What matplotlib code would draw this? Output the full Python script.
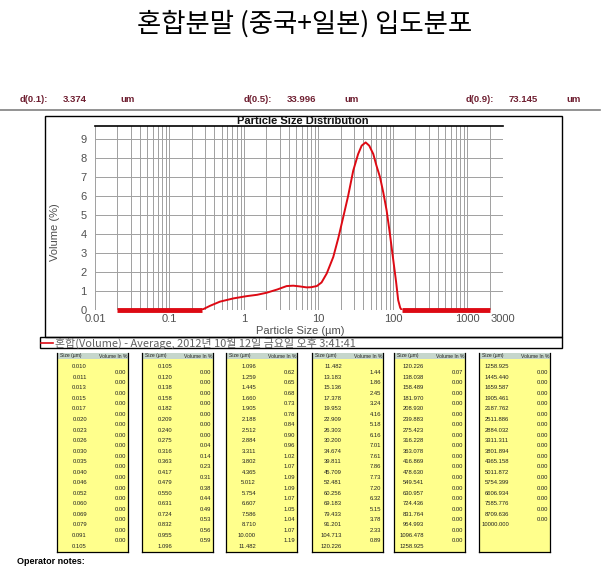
import matplotlib
matplotlib.use("Agg")
import matplotlib.pyplot as plt
from matplotlib.patches import Rectangle
from matplotlib.lines import Line2D

# ---------------- data ----------------
title = "혼합분말 (중국+일본) 입도분포"
d_labels = ["d(0.1):", "d(0.5):", "d(0.9):"]
d_values = ["3.374", "33.996", "73.145"]
d_unit = "um"

# curve (size in um, volume %)
curve_size = [0.27, 0.35, 0.476, 0.72, 1.09, 1.5, 2.02, 2.8, 3.74, 4.59, 5.65, 6.94, 8.0,
              9.5, 11.0, 12.9, 15.8, 18.5, 21.5, 25.0, 29.3, 34.0, 38.0, 43.0, 48.0,
              54.4, 60.0, 67.0, 74.0, 82.2, 91.0, 101.0, 110.0, 117.5, 125.0, 131.0]
curve_vol = [0.0, 0.22, 0.44, 0.61, 0.73, 0.80, 0.91, 1.08, 1.26, 1.28, 1.24, 1.19, 1.20,
             1.26, 1.45, 1.92, 2.79, 3.80, 4.89, 6.00, 7.34, 8.20, 8.65, 8.82, 8.65,
             8.21, 7.60, 6.99, 6.20, 5.24, 4.00, 2.62, 1.50, 0.52, 0.12, 0.0]
zero_low = [0.0195, 0.27]
zero_high = [131.0, 2005.0]

x_ticks = [0.01, 0.1, 1, 10, 100, 1000, 3000]
x_ticklabels = ["0.01", "0.1", "1", "10", "100", "1000", "3000"]
y_ticks = [0, 1, 2, 3, 4, 5, 6, 7, 8, 9]

legend_text = "혼합(Volume) - Average, 2012년 10월 12일 금요일 오후 3:41:41"

sizes1 = ["0.010", "0.011", "0.013", "0.015", "0.017", "0.020", "0.023", "0.026", "0.030",
          "0.035", "0.040", "0.046", "0.052", "0.060", "0.069", "0.079", "0.091", "0.105"]
vols1 = ["0.00"] * 17
sizes2 = ["0.105", "0.120", "0.138", "0.158", "0.182", "0.209", "0.240", "0.275", "0.316",
          "0.363", "0.417", "0.479", "0.550", "0.631", "0.724", "0.832", "0.955", "1.096"]
vols2 = ["0.00", "0.00", "0.00", "0.00", "0.00", "0.00", "0.00", "0.04", "0.14", "0.23",
         "0.31", "0.38", "0.44", "0.49", "0.53", "0.56", "0.59"]
sizes3 = ["1.096", "1.259", "1.445", "1.660", "1.905", "2.188", "2.512", "2.884", "3.311",
          "3.802", "4.365", "5.012", "5.754", "6.607", "7.586", "8.710", "10.000", "11.482"]
vols3 = ["0.62", "0.65", "0.68", "0.73", "0.78", "0.84", "0.90", "0.96", "1.02", "1.07",
         "1.09", "1.09", "1.07", "1.05", "1.04", "1.07", "1.19"]
sizes4 = ["11.482", "13.183", "15.136", "17.378", "19.953", "22.909", "26.303", "30.200",
          "34.674", "39.811", "45.709", "52.481", "60.256", "69.183", "79.433", "91.201",
          "104.713", "120.226"]
vols4 = ["1.44", "1.86", "2.45", "3.24", "4.16", "5.18", "6.16", "7.01", "7.61", "7.86",
         "7.73", "7.20", "6.32", "5.15", "3.78", "2.33", "0.89"]
sizes5 = ["120.226", "138.038", "158.489", "181.970", "208.930", "239.883", "275.423",
          "316.228", "363.078", "416.869", "478.630", "549.541", "630.957", "724.436",
          "831.764", "954.993", "1096.478", "1258.925"]
vols5 = ["0.07"] + ["0.00"] * 16
sizes6 = ["1258.925", "1445.440", "1659.587", "1905.461", "2187.762", "2511.886", "2884.032",
          "3311.311", "3801.894", "4365.158", "5011.872", "5754.399", "6606.934", "7585.776",
          "8709.636", "10000.000"]
vols6 = ["0.00"] * 15

tables = [(sizes1, vols1), (sizes2, vols2), (sizes3, vols3),
          (sizes4, vols4), (sizes5, vols5), (sizes6, vols6)]

# ---------------- figure ----------------
W, H = 613, 576
fig = plt.figure(figsize=(W / 100, H / 100), dpi=100)
plt.rcParams['font.family'] = ['Liberation Sans', 'DejaVu Sans']
KR = ['Noto Sans CJK KR', 'DejaVu Sans']


def fx(x):
    return x / W


def fy(y):
    return 1 - y / H


def hline(x0, x1, y, **kw):
    fig.add_artist(Line2D([fx(x0), fx(x1)], [fy(y), fy(y)], transform=fig.transFigure, **kw))


def vline(x, y0, y1, **kw):
    fig.add_artist(Line2D([fx(x), fx(x)], [fy(y0), fy(y1)], transform=fig.transFigure, **kw))


def rect(x0, y0, x1, y1, **kw):
    fig.add_artist(Rectangle((fx(x0), fy(y1)), fx(x1) - fx(x0), fy(y0) - fy(y1),
                             transform=fig.transFigure, **kw))


# Title
fig.text(fx(305), fy(24), title, family=KR, fontsize=19, ha='center', va='center', color='black')

# d values
maroon = '#6e1e30'
for lab, val, xl in zip(d_labels, d_values, [20, 244, 466]):
    fig.text(fx(xl), fy(99), lab, fontsize=6.8, color=maroon, ha='left', va='center', fontweight='bold')
    fig.text(fx(xl + 43), fy(99), val, fontsize=6.8, color=maroon, ha='left', va='center', fontweight='bold')
    fig.text(fx(xl + 100), fy(99), d_unit, fontsize=6.8, color=maroon, ha='left', va='center', fontweight='bold')

hline(0, 600, 110, color='#808080', lw=1.2)

# chart box and legend box
rect(45, 116, 562, 337, fill=False, edgecolor='black', lw=1.0)
rect(40, 337, 562, 348, fill=False, edgecolor='black', lw=1.0)

# axes
ax_l, ax_r, ax_t, ax_b = 95, 503, 125.7, 310
ax = fig.add_axes([fx(ax_l), fy(ax_b), fx(ax_r) - fx(ax_l), fy(ax_t) - fy(ax_b)])
ax.set_xscale('log')
ax.set_xlim(0.01, 3000)
ax.set_ylim(0, 9.7)
minor = []
for dec in [0.01, 0.1, 1, 10, 100, 1000]:
    for m in range(2, 10):
        v = dec * m
        if v <= 3000:
            minor.append(v)
ax.set_xticks(x_ticks)
ax.set_xticklabels(x_ticklabels)
ax.set_xticks(minor, minor=True)
ax.set_xticklabels([], minor=True)
ax.set_yticks(y_ticks)
ax.tick_params(axis='both', which='both', length=0, labelsize=8, labelcolor='#505050')
ax.tick_params(axis='x', pad=3)
ax.tick_params(axis='y', pad=6)
ax.grid(True, which='both', axis='x', color='#a0a0a0', lw=0.7)
ax.grid(True, which='major', axis='y', color='#a0a0a0', lw=0.7)
for s in ['left', 'bottom', 'right']:
    ax.spines[s].set_visible(False)
ax.spines['top'].set_color('black')
ax.spines['top'].set_linewidth(1.2)

red = '#dd0a14'
ax.plot(curve_size, curve_vol, color=red, lw=1.4, solid_capstyle='round', zorder=3)
ax.plot(zero_low, [0, 0], color=red, lw=3.5, solid_capstyle='butt', zorder=3, clip_on=False)
ax.plot(zero_high, [0, 0], color=red, lw=3.5, solid_capstyle='butt', zorder=3, clip_on=False)

fig.text(fx(303), fy(120.5), "Particle Size Distribution", fontsize=8, fontweight='semibold',
         ha='center', va='center', color='#111111')
fig.text(fx(55), fy(232), "Volume (%)", fontsize=8, rotation=90, ha='center', va='center',
         color='#505050')
fig.text(fx(300), fy(331), "Particle Size (µm)", fontsize=8, ha='center', va='center',
         color='#505050')

# legend
hline(41, 53, 343, color=red, lw=1.2)
fig.text(fx(55), fy(343), legend_text, family=KR, fontsize=7.9, ha='left', va='center',
         color='#606060')

# tables
lefts = [57, 142, 226, 312, 394, 479]
tw = 71
top, head_b, bot = 353, 359, 552
y0, dy = 366.7, 10.55
for (sz, vl), xl in zip(tables, lefts):
    rect(xl, head_b, xl + tw, bot, facecolor='#ffff8c', edgecolor='none')
    rect(xl, top, xl + tw, head_b, facecolor='#c6d6cc', edgecolor='none')
    vline(xl, top, bot, color='black', lw=0.9)
    vline(xl + tw, top, bot, color='black', lw=0.9)
    hline(xl, xl + tw, bot, color='black', lw=0.9)
    fig.text(fx(xl + 3), fy(356), "Size (µm)", fontsize=3.6, ha='left', va='center', color='#222222')
    fig.text(fx(xl + tw - 1), fy(356), "Volume In %", fontsize=3.6, ha='right', va='center',
             color='#222222')
    for i, s in enumerate(sz):
        fig.text(fx(xl + 30), fy(y0 + i * dy), s, fontsize=4.2, ha='right', va='center', color='#222222')
    for j, v in enumerate(vl):
        fig.text(fx(xl + 69), fy(y0 + j * dy + 5.3), v, fontsize=4.2, ha='right', va='center',
                 color='#222222')

fig.text(fx(17), fy(562), "Operator notes:", fontsize=6.5, fontweight='bold', ha='left',
         va='center', color='black')

fig.savefig("out.png", dpi=100)
